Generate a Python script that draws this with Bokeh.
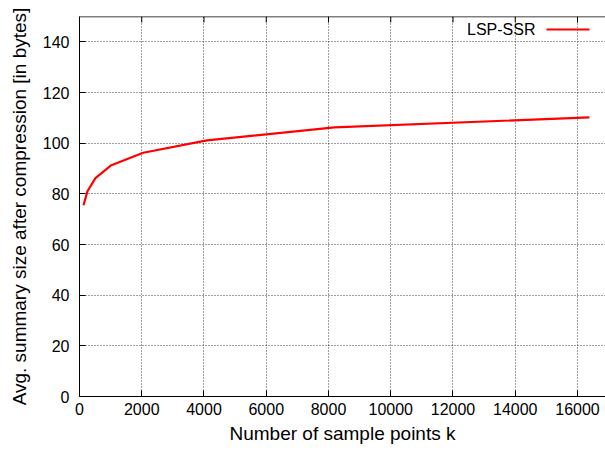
import math
from bokeh.plotting import figure
from bokeh.models import Range1d, FixedTicker, Label, BoxAnnotation, Span
from bokeh.embed import file_html
from bokeh.resources import INLINE

# data
sample_points = [128, 256, 512, 1024, 2048, 4096, 8192, 16384]
summary_size = [75.5, 81, 86.2, 91.3, 96.2, 101.1, 106.2, 110.2]
series_name = "LSP-SSR"
x_ticks = [0, 2000, 4000, 6000, 8000, 10000, 12000, 14000, 16000]
y_ticks = [0, 20, 40, 60, 80, 100, 120, 140]
Y_MAX = 150

FONT = "Liberation Sans"

p = figure(width=605, height=452, output_backend="svg", toolbar_location=None,
           x_range=Range1d(0, 16900), y_range=Range1d(0, Y_MAX),
           min_border_left=79, min_border_right=0, min_border_top=16, min_border_bottom=56,
           x_axis_label="Number of sample points k",
           y_axis_label="Avg. summary size after compression [in bytes]")
p.outline_line_color = None
p.background_fill_color = "white"

for ax in (p.xaxis[0], p.yaxis[0]):
    ax.major_tick_in = 6
    ax.major_tick_out = 0
    ax.minor_tick_line_color = None
    ax.axis_line_color = "black"
    ax.axis_line_width = 1
    ax.major_tick_line_color = "black"
    ax.major_label_text_font = FONT
    ax.major_label_text_font_size = "16px"
    ax.major_label_text_color = "black"
    ax.axis_label_text_font = FONT
    ax.axis_label_text_font_size = "19px"
    ax.axis_label_text_font_style = "normal"
    ax.axis_label_text_color = "black"

p.xaxis[0].ticker = FixedTicker(ticks=x_ticks)
p.yaxis[0].ticker = FixedTicker(ticks=y_ticks)
p.xaxis[0].major_label_standoff = 6
p.xaxis[0].axis_label_standoff = 5
p.yaxis[0].major_label_standoff = 10
p.yaxis[0].axis_label_standoff = 10

for g in (p.xgrid[0], p.ygrid[0]):
    g.grid_line_color = "black"
    g.grid_line_dash = "1 2"
    g.grid_line_alpha = 0.75
    g.grid_line_width = 1
p.xgrid[0].ticker = FixedTicker(ticks=x_ticks[1:])
p.ygrid[0].ticker = FixedTicker(ticks=y_ticks[1:])

# top border with mirrored ticks (gnuplot style)
p.add_layout(Span(location=Y_MAX, dimension="width", line_color="black", line_width=1.5))
p.ray(x=x_ticks, y=[Y_MAX] * len(x_ticks), length=6, length_units="screen",
      angle=-math.pi / 2, line_color="black", line_width=1)

p.line(sample_points, summary_size, line_color="#ff0000", line_width=2.2)

# gnuplot-style legend: text then line sample
p.add_layout(Label(x=14651, y=144.9, text=series_name, text_align="right", text_baseline="middle",
                   text_font=FONT, text_font_size="16px", text_color="black"))
p.add_layout(BoxAnnotation(left=15004, right=16386, bottom=144.5, top=145.3,
                           fill_color="#ff0000", fill_alpha=1, line_color=None))

open("out.html", "w").write(file_html(p, INLINE))
